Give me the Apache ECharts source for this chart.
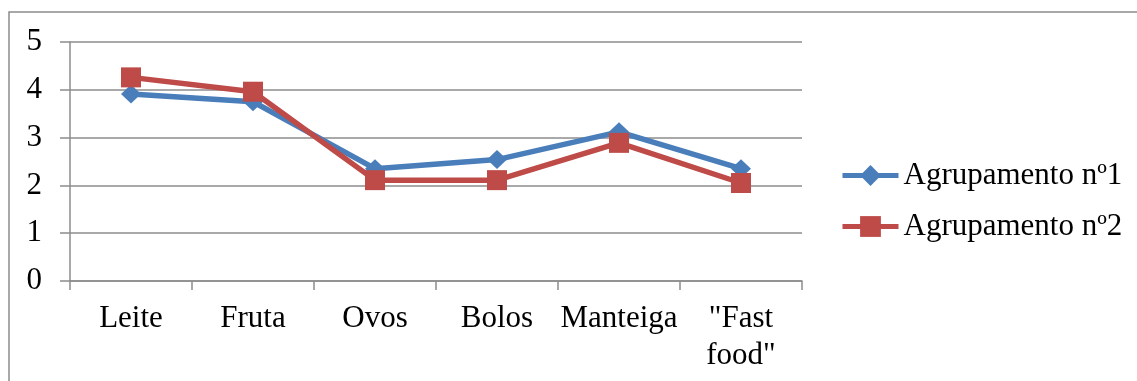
<!DOCTYPE html>
<html>
<head>
<meta charset="utf-8">
<script src="https://cdn.jsdelivr.net/npm/echarts@6/dist/echarts.min.js"></script>
<style>
  html, body { margin: 0; padding: 0; background: #ffffff; }
  #chart { width: 1137px; height: 381px; }
</style>
</head>
<body>
<div id="chart"></div>
<script>
// Food categories along the x axis
const categories = ['Leite', 'Fruta', 'Ovos', 'Bolos', 'Manteiga', '"Fast\nfood"'];
// Mean scores per group
const grupo1 = [3.91, 3.75, 2.35, 2.54, 3.12, 2.35];
const grupo2 = [4.26, 3.96, 2.11, 2.11, 2.89, 2.05];
const seriesNames = ['Agrupamento nº1', 'Agrupamento nº2'];
const yTicks = [0, 1, 2, 3, 4, 5];

const FONT = 'Liberation Serif';
const FONT_SIZE = 31;
const GRID_GRAY = '#8c8c8c';

const chart = echarts.init(document.getElementById('chart'), null, { renderer: 'canvas' });

chart.setOption({
  animation: false,
  backgroundColor: '#ffffff',
  graphic: [{
    type: 'rect',
    shape: { x: 9, y: 12, width: 1200, height: 420 },
    style: { fill: 'none', stroke: '#8c8c8c', lineWidth: 1.5 },
    silent: true,
    z: -1
  }],
  grid: { left: 70, right: 335, top: 42, bottom: 100 },
  legend: {
    orient: 'vertical',
    left: 840,
    top: 160,
    padding: 0,
    itemWidth: 56,
    itemHeight: 26,
    itemGap: 20,
    data: seriesNames,
    lineStyle: { width: 5 },
    textStyle: { fontFamily: FONT, fontSize: FONT_SIZE, lineHeight: 30, color: '#000' }
  },
  xAxis: {
    type: 'category',
    data: categories,
    boundaryGap: true,
    axisLine: { show: true, lineStyle: { color: GRID_GRAY, width: 1.5 } },
    axisTick: { show: true, length: 9, lineStyle: { color: GRID_GRAY, width: 1.5 } },
    axisLabel: {
      fontFamily: FONT, fontSize: FONT_SIZE, color: '#000',
      margin: 19, lineHeight: 37, interval: 0
    },
    splitLine: { show: false }
  },
  yAxis: {
    type: 'value',
    min: yTicks[0],
    max: yTicks[yTicks.length - 1],
    interval: 1,
    axisLine: { show: true, lineStyle: { color: GRID_GRAY, width: 1.5 } },
    axisTick: { show: true, length: 10, lineStyle: { color: GRID_GRAY, width: 1.5 } },
    axisLabel: { fontFamily: FONT, fontSize: FONT_SIZE, color: '#000', margin: 28 },
    splitLine: { show: true, lineStyle: { color: GRID_GRAY, width: 1.5 } }
  },
  series: [
    {
      name: seriesNames[0],
      type: 'line',
      data: grupo1,
      symbol: 'diamond',
      symbolSize: [20, 19],
      showAllSymbol: true,
      color: '#4A7EBB',
      lineStyle: { color: '#4A7EBB', width: 5.5 },
      itemStyle: { color: '#4A7EBB' },
      z: 2
    },
    {
      name: seriesNames[1],
      type: 'line',
      data: grupo2,
      symbol: 'rect',
      symbolSize: 20,
      showAllSymbol: true,
      color: '#BE4B48',
      lineStyle: { color: '#BE4B48', width: 5.5 },
      itemStyle: { color: '#BE4B48' },
      z: 3
    }
  ]
});
</script>
</body>
</html>
